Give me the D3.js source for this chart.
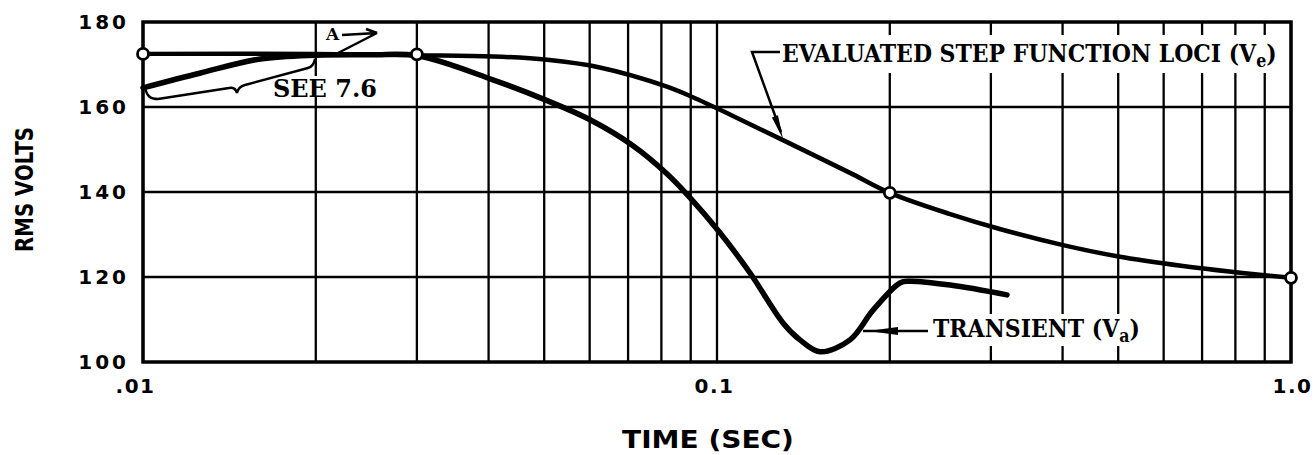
<!DOCTYPE html>
<html>
<head>
<meta charset="utf-8">
<script src="https://cdn.jsdelivr.net/npm/d3@7"></script>
<style>
  body { margin: 0; background: #fff; }
  svg { display: block; }
  .tick text { font-family: "DejaVu Sans", sans-serif; font-weight: bold; font-size: 20px; fill: #000; }
  .note { font-family: "DejaVu Serif", serif; font-weight: bold; fill: #000; }
  .axisTitle { font-family: "DejaVu Sans", sans-serif; font-weight: bold; fill: #000; }
</style>
</head>
<body>
<div id="chart"></div>
<script>
// evaluated step function loci (Ve)
var veTime  = [0.01, 0.02, 0.03, 0.0407, 0.0506, 0.0625, 0.0818, 0.0908, 0.1066, 0.1303, 0.1705, 0.2, 0.2548, 0.3109, 0.4007, 0.4977, 0.648, 0.7926, 1.0];
var veVolts = [172.5, 172.5, 172.2, 171.9, 171.1, 169.3, 164.8, 162.3, 157.9, 152.2, 144.5, 139.8, 134.8, 131.3, 127.5, 124.9, 122.6, 121.2, 119.8];

// transient (Va)
var trTime  = [0.01, 0.0126, 0.016, 0.02, 0.025, 0.03, 0.0407, 0.0506, 0.0601, 0.0714, 0.0818, 0.089, 0.1012, 0.1141, 0.1303, 0.1395, 0.1512, 0.1705, 0.187, 0.2083, 0.2164, 0.2548, 0.32];
var trVolts = [164.5, 168, 171.3, 172.2, 172.3, 172.1, 166.4, 161.5, 157.0, 150.9, 144.3, 139.2, 130.4, 121.0, 109.2, 105.2, 102.4, 105.2, 112.2, 118.6, 119, 118.1, 115.8];

// open circles (evaluated points)
var ptTime  = [0.01, 0.03, 0.2, 1.0];
var ptVolts = [172.5, 172.4, 139.8, 119.8];

var yTicks = [100, 120, 140, 160, 180];
var xTicks = [0.01, 0.1, 1.0];
var xTickLabels = [".01", "0.1", "1.0"];

var margin = {top: 22, right: 24, bottom: 93, left: 143},
    width = 1315 - margin.left - margin.right,
    height = 455 - margin.top - margin.bottom;

var root = d3.select("#chart").append("svg")
    .attr("width", 1315)
    .attr("height", 455);

var svg = root.append("g")
    .attr("transform", "translate(" + margin.left + "," + margin.top + ")");

var x = d3.scaleLog().domain([0.01, 1]).range([0, width]);
var y = d3.scaleLinear().domain([100, 180]).range([height, 0]);

// grid
svg.append("g").selectAll("line")
  .data(x.ticks())
  .enter().append("line")
    .attr("x1", d => x(d)).attr("x2", d => x(d))
    .attr("y1", 0).attr("y2", height)
    .attr("stroke", "#000").attr("stroke-width", 2.3);

svg.append("g").selectAll("line")
  .data(yTicks.slice(1, -1))
  .enter().append("line")
    .attr("x1", 0).attr("x2", width)
    .attr("y1", d => y(d)).attr("y2", d => y(d))
    .attr("stroke", "#000").attr("stroke-width", 2.3);

// axes (labels only)
var xAxis = svg.append("g")
  .attr("transform", "translate(0," + height + ")")
  .call(d3.axisBottom(x).tickValues(xTicks).tickSize(0).tickPadding(17)
        .tickFormat((d, i) => xTickLabels[i]));
xAxis.select(".domain").remove();
xAxis.selectAll("text").attr("dx", (d, i) => i === 0 ? -8 : (i === 2 ? 1 : -3))
  .style("letter-spacing", "1.5px");

var yAxis = svg.append("g")
  .call(d3.axisLeft(y).tickValues(yTicks).tickSize(0).tickPadding(14));
yAxis.select(".domain").remove();
yAxis.selectAll("text").style("letter-spacing", "3px");

// fit a text to a given width with horizontal scaling; pad = [x, top, bottom]
function note(parent, parts, left, base, w, size, pad) {
  var g = parent.append("g");
  var bg = g.append("rect").attr("fill", "#fff");
  var t = g.append("text").attr("class", "note").attr("font-size", size);
  parts.forEach(function(p) {
    var s = t.append("tspan").text(p.t);
    if (p.sub) s.attr("font-size", size * 0.72).attr("dy", size * 0.2);
    if (p.back) s.attr("dy", -size * 0.2);
  });
  var b = t.node().getBBox();
  var k = w / b.width;
  g.attr("transform", "translate(" + (left - b.x * k) + "," + base + ") scale(" + k + ",1)");
  if (pad) {
    bg.attr("x", b.x - pad[0] / k).attr("y", b.y - pad[1])
      .attr("width", b.width + 2 * pad[0] / k).attr("height", b.height + pad[1] + pad[2]);
  }
  return g;
}

// label backgrounds break the grid like on the original
note(root, [{t: "EVALUATED STEP FUNCTION LOCI (V"}, {t: "e", sub: true}, {t: ")", back: true}],
     782, 62, 495, 25, [6, 4, 2]);
note(root, [{t: "TRANSIENT (V"}, {t: "a", sub: true}, {t: ")", back: true}],
     933, 337, 207, 25, [5, 0, 0]);
note(root, [{t: "SEE 7.6"}], 273, 97, 104, 25, [4, -2, -7]);
note(root, [{t: "A"}], 325, 40, 15, 17, null);

// frame
svg.append("rect")
  .attr("x", 0).attr("y", 0)
  .attr("width", width).attr("height", height)
  .attr("fill", "none").attr("stroke", "#000").attr("stroke-width", 3.5);

// curves
var line = d3.line().curve(d3.curveCatmullRom.alpha(0.5));

svg.append("path")
  .datum(veTime.map((t, i) => [x(t), y(veVolts[i])]))
  .attr("d", line)
  .attr("fill", "none").attr("stroke", "#000").attr("stroke-width", 4.5);

svg.append("path")
  .datum(trTime.map((t, i) => [x(t), y(trVolts[i])]))
  .attr("d", line)
  .attr("fill", "none").attr("stroke", "#000").attr("stroke-width", 5.5)
  .attr("stroke-linecap", "round");

svg.append("g").selectAll("circle")
  .data(ptTime)
  .enter().append("circle")
    .attr("cx", d => x(d))
    .attr("cy", (d, i) => y(ptVolts[i]))
    .attr("r", 5.5)
    .attr("fill", "#fff").attr("stroke", "#000").attr("stroke-width", 2.8);

// leaders and brace (page pixels)
var ann = root.append("g").attr("fill", "none").attr("stroke", "#000").attr("stroke-width", 2.5);
ann.append("path").attr("d", "M145,88 C147,96 150,99 158,99 L229,88 C233,87 236,89 237,93 C238,88 241,86 245,85 L308,68 C312,67 314,64 315,59");
ann.append("path").attr("d", "M342,35 L377,33 L338,53");
ann.append("path").attr("d", "M366,29 L377,33");
ann.append("path").attr("d", "M780,52 L752,52 L781,132");
ann.append("path").attr("d", "M863,331 L928,331");

function head(tip, from, len, half) {
  var dx = tip[0] - from[0], dy = tip[1] - from[1];
  var l = Math.sqrt(dx * dx + dy * dy);
  var ux = dx / l, uy = dy / l;
  var bx = tip[0] - ux * len, by = tip[1] - uy * len;
  root.append("path")
    .attr("d", "M" + tip[0] + "," + tip[1] +
               "L" + (bx - uy * half) + "," + (by + ux * half) +
               "L" + (bx + uy * half) + "," + (by - ux * half) + "Z")
    .attr("fill", "#000");
}
head([783, 139], [752, 52], 24, 3.2);
head([868, 331], [900, 331], 30, 4);

// axis titles
var tt = root.append("text").attr("class", "axisTitle")
  .attr("font-size", 24).text("TIME (SEC)");
var tb = tt.node().getBBox();
tt.attr("transform", "translate(" + (622 - tb.x * (172 / tb.width)) + ",448) scale(" + (172 / tb.width) + ",1)");

var ty = root.append("text").attr("class", "axisTitle")
  .attr("font-size", 24).text("RMS VOLTS");
var yb = ty.node().getBBox();
ty.attr("transform", "translate(33,252) rotate(-90) scale(" + (125 / yb.width) + ",1)");
</script>
</body>
</html>
